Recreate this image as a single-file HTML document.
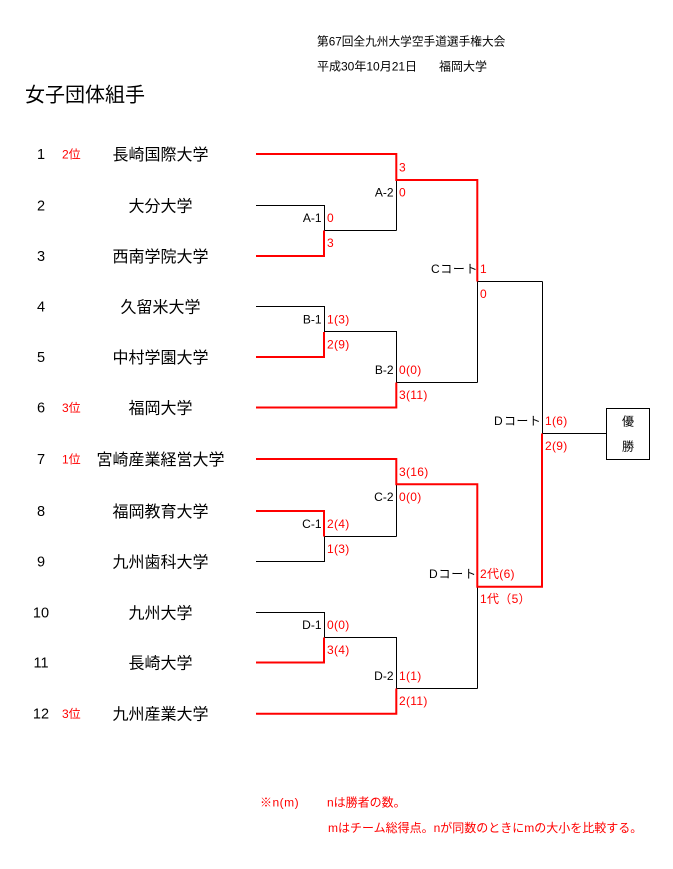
<!DOCTYPE html>
<html><head><meta charset="utf-8"><style>
html,body{margin:0;padding:0;background:#fff;}
body{width:673px;height:869px;overflow:hidden;}
svg{display:block;}
text{font-family:"Liberation Sans","Noto Sans CJK JP",sans-serif;}
.r{fill:#f00;font-size:12px;}
.k{fill:#000;font-size:12px;}
.nm{fill:#000;font-size:16px;}
.num{fill:#000;font-size:14.5px;}
</style></head><body>
<svg width="673" height="869" viewBox="0 0 673 869" xmlns="http://www.w3.org/2000/svg">
<!-- header -->
<text class="k" x="317" y="45.5" style="font-size:11.7px">第67回全九州大学空手道選手権大会</text>
<text class="k" x="317" y="70.5">平成30年10月21日</text>
<text class="k" x="439" y="70.5">福岡大学</text>
<text x="25" y="101.5" style="font-size:20px;fill:#000">女子団体組手</text>

<!-- row numbers -->
<g class="num" text-anchor="middle">
<text x="41" y="159">1</text>
<text x="41" y="210.5">2</text>
<text x="41" y="261">3</text>
<text x="41" y="311.5">4</text>
<text x="41" y="362">5</text>
<text x="41" y="412.5">6</text>
<text x="41" y="464">7</text>
<text x="41" y="516">8</text>
<text x="41" y="566.5">9</text>
<text x="41" y="617.5">10</text>
<text x="41" y="667.5">11</text>
<text x="41" y="718.7">12</text>
</g>
<!-- ranks -->
<text class="r" x="62" y="158.3">2位</text>
<text class="r" x="62" y="411.8">3位</text>
<text class="r" x="62" y="463.3">1位</text>
<text class="r" x="62" y="718">3位</text>

<!-- team names -->
<g class="nm" text-anchor="middle">
<text x="160.5" y="160">長崎国際大学</text>
<text x="160.5" y="211.5">大分大学</text>
<text x="160.5" y="262">西南学院大学</text>
<text x="160.5" y="312.5">久留米大学</text>
<text x="160.5" y="363">中村学園大学</text>
<text x="160.5" y="413.5">福岡大学</text>
<text x="160.5" y="465">宮崎産業経営大学</text>
<text x="160.5" y="517">福岡教育大学</text>
<text x="160.5" y="567.5">九州歯科大学</text>
<text x="160.5" y="618.5">九州大学</text>
<text x="160.5" y="668.5">長崎大学</text>
<text x="160.5" y="719.7">九州産業大学</text>
</g>

<!-- black lines -->
<g fill="none" stroke="#000" stroke-width="1">
<path d="M256 205.5 H324.5 V230.5"/>
<path d="M324 230.5 H396.5"/>
<path d="M396.5 180 V230.5"/>
<path d="M477.5 281.5 V382.5"/>
<path d="M477.5 281.5 H542.5"/>
<path d="M256 306.5 H324.5 V332"/>
<path d="M324 331.5 H396.5 V382.5"/>
<path d="M396 382.5 H477.5"/>
<path d="M542.5 281.5 V433.5"/>
<path d="M542 433.5 H606.5"/>
<path d="M396.5 484.3 V536.5"/>
<path d="M324.5 536.5 V561.5 H256"/>
<path d="M324 536.5 H396.5"/>
<path d="M477.5 586.7 V688.5"/>
<path d="M256 612.5 H324.5 V637.5 H396.5 V688.5 H477.5"/>
<rect x="606.5" y="408.5" width="43" height="51"/>
</g>

<!-- red lines -->
<g fill="none" stroke="#f00" stroke-width="2" stroke-linejoin="miter">
<path d="M256 154 H396.3 V180 H477.3 V281.5"/>
<path d="M256 256 H324 V230.5"/>
<path d="M256 357 H324 V332"/>
<path d="M256 407.5 H396.3 V382.5"/>
<path d="M256 459 H396.3 V484.3 H477.3 V586.7 H542 V433.5"/>
<path d="M256 511 H324 V536.5"/>
<path d="M256 662.5 H324 V637.5"/>
<path d="M256 713.7 H396.3 V688.5"/>
</g>

<!-- score labels -->
<g class="r" style="letter-spacing:0.3px">
<text x="399" y="171.5">3</text>
<text x="399" y="196.5">0</text>
<text x="327" y="222">0</text>
<text x="327" y="247">3</text>
<text x="480" y="273">1</text>
<text x="480" y="298">0</text>
<text x="327" y="323.5">1(3)</text>
<text x="327" y="348.5">2(9)</text>
<text x="399" y="374">0(0)</text>
<text x="399" y="399">3(11)</text>
<text x="545" y="425">1(6)</text>
<text x="545" y="450">2(9)</text>
<text x="399" y="475.8">3(16)</text>
<text x="399" y="500.8">0(0)</text>
<text x="327" y="528">2(4)</text>
<text x="327" y="553">1(3)</text>
<text x="480" y="578.2">2代(6)</text>
<text x="480" y="603.2">1代（5）</text>
<text x="327" y="629">0(0)</text>
<text x="327" y="654">3(4)</text>
<text x="399" y="680">1(1)</text>
<text x="399" y="705">2(11)</text>
</g>

<!-- match labels -->
<g class="k" text-anchor="end">
<text x="321.5" y="222">A-1</text>
<text x="393.5" y="196.5">A-2</text>
<text x="321.5" y="323.5">B-1</text>
<text x="393.5" y="374">B-2</text>
<text x="393.5" y="500.8">C-2</text>
<text x="321.5" y="528">C-1</text>
<text x="321.5" y="629">D-1</text>
<text x="393.5" y="680">D-2</text>
</g>
<text class="k" x="431" y="273" style="letter-spacing:0.6px">Cコート</text>
<text class="k" x="494" y="425">D</text>
<text class="k" x="504" y="425" style="letter-spacing:0.4px">コート</text>
<text class="k" x="429" y="578.2" style="letter-spacing:0.8px">Dコート</text>

<!-- final box -->
<text class="k" x="628" y="425.5" text-anchor="middle">優</text>
<text class="k" x="628" y="450.5" text-anchor="middle">勝</text>

<!-- footer -->
<text class="r" x="260" y="806.5" style="letter-spacing:0.5px">※n(m)</text>
<text class="r" x="327" y="806.5">nは勝者の数。</text>
<text class="r" x="328" y="832">mはチーム総得点。nが同数のときにmの大小を比較する。</text>
</svg>
</body></html>
